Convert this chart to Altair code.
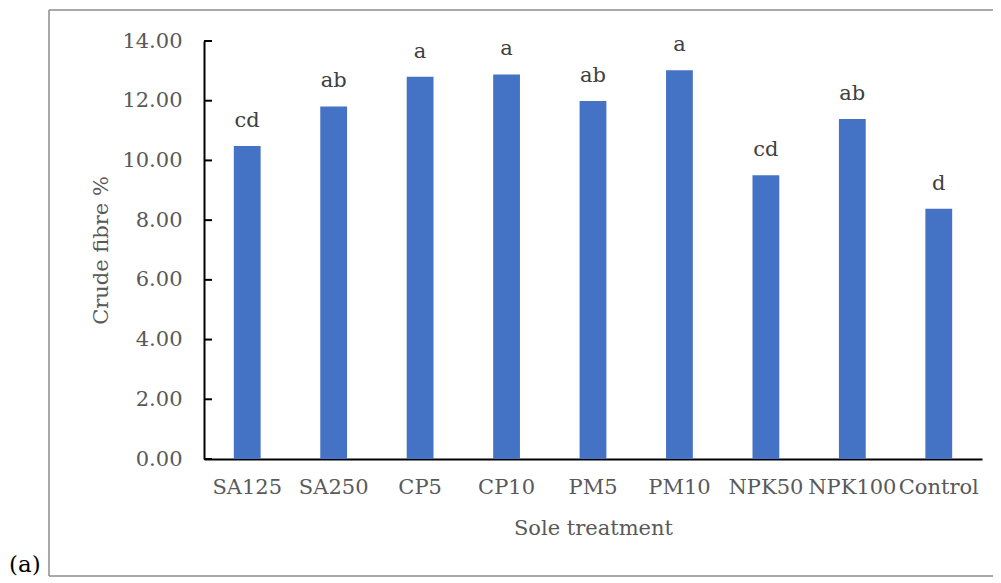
import altair as alt
import pandas as pd

treatments = ["SA125", "SA250", "CP5", "CP10", "PM5", "PM10", "NPK50", "NPK100", "Control"]
crude_fibre = [10.48, 11.81, 12.80, 12.88, 11.99, 13.02, 9.50, 11.39, 8.38]
letters = ["cd", "ab", "a", "a", "ab", "a", "cd", "ab", "d"]
y_ticks = [0, 2, 4, 6, 8, 10, 12, 14]

df = pd.DataFrame({"treatment": treatments, "value": crude_fibre, "letter": letters})
ticks_df = pd.DataFrame({"t": y_ticks})

FONT = "DejaVu Serif"
GREY = "#595959"

x_enc = alt.X("treatment:N", sort=treatments, title="Sole treatment",
              scale=alt.Scale(paddingInner=0.69, paddingOuter=0.345),
              axis=alt.Axis(labelAngle=0, ticks=False, domainColor="black", domainWidth=2,
                            labelPadding=17, titlePadding=20, labelFont=FONT, titleFont=FONT,
                            labelFontSize=21, titleFontSize=21, labelColor=GREY, titleColor=GREY,
                            titleFontWeight="normal"))
y_enc = alt.Y("value:Q", title="Crude fibre %",
              scale=alt.Scale(domain=[0, 14], nice=False),
              axis=alt.Axis(values=y_ticks, format=".2f", ticks=False, grid=False,
                            domainColor="black", domainWidth=2, labelPadding=22,
                            titlePadding=10, labelFont=FONT, titleFont=FONT,
                            labelFontSize=21, titleFontSize=21, labelColor=GREY,
                            titleColor=GREY, titleFontWeight="normal"))

bars = alt.Chart(df).mark_bar(color="#4472C4").encode(x=x_enc, y=y_enc)

text = alt.Chart(df).mark_text(font=FONT, fontSize=21, color="#404040",
                                baseline="bottom", dy=-15).encode(
    x=alt.X("treatment:N", sort=treatments),
    y=alt.Y("value:Q"),
    text="letter:N")

ticks = alt.Chart(ticks_df).mark_rule(color="black", strokeWidth=2).encode(
    y=alt.Y("t:Q"), x=alt.value(0), x2=alt.value(8))

one = alt.Data(values=[{"k": 1}])
frame_style = dict(color="#8c8c8c", strokeWidth=1.5)
frame_left = alt.Chart(one).mark_rule(**frame_style).encode(
    x=alt.value(-155), y=alt.value(-31), y2=alt.value(535))
frame_top = alt.Chart(one).mark_rule(**frame_style).encode(
    x=alt.value(-155), x2=alt.value(820), y=alt.value(-31))
frame_bottom = alt.Chart(one).mark_rule(**frame_style).encode(
    x=alt.value(-155), x2=alt.value(820), y=alt.value(535))

label_a = alt.Chart(alt.Data(values=[{"k": "(a)"}])).mark_text(
    font=FONT, fontSize=23, color="black", align="left", baseline="alphabetic").encode(
    x=alt.value(-195), y=alt.value(531), text="k:N")

chart = alt.layer(frame_left, frame_top, frame_bottom, bars, text, ticks, label_a).properties(
    width=778, height=418,
    padding={"left": 196, "top": 33, "right": 11, "bottom": 118},
    autosize=alt.AutoSizeParams(type="none"),
    background="white",
).configure_view(stroke=None, strokeWidth=0)

chart.save("out.html", embed_options={"renderer": "svg", "actions": False})
